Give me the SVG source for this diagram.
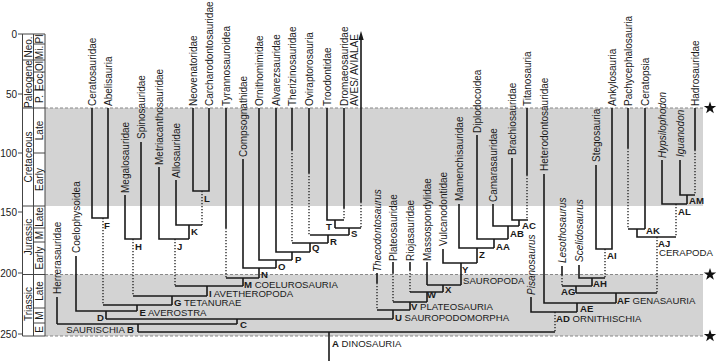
<svg xmlns="http://www.w3.org/2000/svg" width="720" height="361" viewBox="0 0 720 361">
<style>
text{font-family:"Liberation Sans",Arial,sans-serif;font-size:10px;fill:#1a1a1a}
.it{font-style:italic}
.b{font-weight:bold}
#nodes text{font-size:9.6px}
.s{fill:none;stroke:#1a1a1a;stroke-width:1.6}
.d{fill:none;stroke:#1a1a1a;stroke-width:1.3;stroke-dasharray:1.3 1.7}
.t{fill:none;stroke:#444;stroke-width:1}
.bd{fill:none;stroke:#888;stroke-width:1.2;stroke-dasharray:3 2}
</style>
<defs>
<path id="star" d="M0,-6.5L1.53,-2.1L6.18,-2.01L2.47,0.8L3.82,5.26L0,2.6L-3.82,5.26L-2.47,0.8L-6.18,-2.01L-1.53,-2.1Z" fill="#111"/>
</defs>
<rect width="720" height="361" fill="#fff"/>
<g id="bands">
<rect x="45" y="108" width="658" height="98" fill="#d3d3d3"/>
<rect x="45" y="274.5" width="658" height="61.5" fill="#d3d3d3"/>
<path class="bd" d="M45 108H705M45 274.5H705M45 336H705"/>
<use href="#star" x="710" y="108"/>
<use href="#star" x="710" y="274.5"/>
<use href="#star" x="710" y="336"/>
</g>
<g id="timescale">
<path class="t" d="M22.5 34V336M33.5 34V336M45 34V336M18 34H45M18 94H22.5M18 153H22.5M18 212H22.5M18 273H22.5M18 334H22.5M22.5 60H45M22.5 108H45M22.5 206H45M22.5 274.5H45M22.5 336H45M33.5 44H45M33.5 72H45M33.5 90H45M33.5 153H45M33.5 228H45M33.5 242H45M33.5 308H45M33.5 323H45"/>
<g text-anchor="end">
<text x="17" y="38">0</text><text x="17" y="98">50</text><text x="17" y="157">100</text><text x="17" y="216">150</text><text x="17" y="277">200</text><text x="17" y="338">250</text>
</g>
<g text-anchor="middle">
<text transform="translate(31.5,47) rotate(-90)">Neo.</text>
<text transform="translate(31.5,84) rotate(-90)">Paleogene</text>
<text transform="translate(31.5,157) rotate(-90)">Cretaceous</text>
<text transform="translate(31.5,237) rotate(-90)">Jurassic</text>
<text transform="translate(31.5,304) rotate(-90)">Triassic</text>
<text transform="translate(43,39) rotate(-90)">Pl</text>
<text transform="translate(43,52.5) rotate(-90)">Mi.</text>
<text transform="translate(43,66) rotate(-90)">Ol</text>
<text transform="translate(43,81) rotate(-90)">Eoc.</text>
<text transform="translate(43,99) rotate(-90)">P.</text>
<text transform="translate(43,130.5) rotate(-90)">Late</text>
<text transform="translate(43,179.5) rotate(-90)">Early</text>
<text transform="translate(43,217) rotate(-90)">Late</text>
<text transform="translate(43,235) rotate(-90)">M</text>
<text transform="translate(43,258) rotate(-90)">Early</text>
<text transform="translate(43,291) rotate(-90)">Late</text>
<text transform="translate(43,315.5) rotate(-90)">M</text>
<text transform="translate(43,329.5) rotate(-90)">E</text>
</g>
</g>
<g id="connectors">
<path class="s" d="M57 297V324M57 324H237M138 324V332M138 332H555M329 332V361M106 319H393M237 319V324M76 256V311H137M106 311V319M103 305H172M137 305V311M92 108V218H108V108M133 296H207M172 296V305M125 195V239H141V142M175 286H243M207 286V296M159 167V239H189M176 180V225H202M189 225V239M193 108V191H209V108M226 108V228M226 278H259M243 278V286M243 159V268H276M259 268V278M259 108V260H292M276 260V268M276 108V252H310M292 252V260M292 243H328M310 243V252M310 235H349M328 235V243M335 228H361M349 228V235M327 108V220H344M335 220V228M292 108V150M309 108V173M344 108V208M361 38V202"/>
<path class="d" d="M103 218V305M133 239V296M175 239V286M202 191V225M226 228V278M292 150V243M309 173V235M344 208V220M361 202V228"/>
<path d="M361 31L358.3 40H363.7Z" fill="#1a1a1a"/>
<path class="s" d="M377 273V283M377 310H410M393 310V319M393 262V273M393 302H427M410 302V310M410 262V270M410 292H443M427 292V302M427 262V285M427 285H461M443 285V292M443 249V263H477M461 263V285M459 204V248H494M477 248V263M477 135V239H508M494 239V248M493 204V226H519M508 226V239M512 158V220H528M519 220V226M527 108V175"/>
<path class="d" d="M377 283V310M393 273V302M410 270V292M527 175V220"/>
<path class="s" d="M531 297V312H577M577 303V312M544 174V303H616M616 293V303M576 293H657M576 286V293M562 286H592M592 278V286M562 266V275M579 265V278H605M596 165V249H612V108M645 108V229M628 229H645M628 108V148M637 229V237H676M662 160V204H687M687 195V204M680 160V195H695M695 108V150"/>
<path class="d" d="M555 312V332M562 275V286M605 249V278M657 237V293M628 148V229M676 204V237M695 150V195"/>
</g>
<g id="tips">
<text id="t-herrerasauridae" transform="translate(60.5,294) rotate(-90)">Herrerasauridae</text>
<text id="t-coelophysoidea" transform="translate(79.5,253) rotate(-90)">Coelophysoidea</text>
<text id="t-ceratosauridae" transform="translate(95.5,106) rotate(-90)">Ceratosauridae</text>
<text id="t-abelisauria" transform="translate(111.5,106) rotate(-90)">Abelisauria</text>
<text id="t-megalosauridae" transform="translate(128.5,193) rotate(-90)">Megalosauridae</text>
<text id="t-spinosauridae" transform="translate(144.5,139) rotate(-90)">Spinosauridae</text>
<text id="t-metriacanthosauridae" transform="translate(162.5,165) rotate(-90)">Metriacanthosauridae</text>
<text id="t-allosauridae" transform="translate(179.5,178) rotate(-90)">Allosauridae</text>
<text id="t-neovenatoridae" transform="translate(196.5,106) rotate(-90)">Neovenatoridae</text>
<text id="t-carcharodontosauridae" transform="translate(212.5,106) rotate(-90)">Carcharodontosauridae</text>
<text id="t-tyrannosauroidea" transform="translate(229.5,106) rotate(-90)">Tyrannosauroidea</text>
<text id="t-compsognathidae" transform="translate(246.5,157) rotate(-90)">Compsognathidae</text>
<text id="t-ornithomimidae" transform="translate(262.5,106) rotate(-90)">Ornithomimidae</text>
<text id="t-alvarezsauridae" transform="translate(279.5,106) rotate(-90)">Alvarezsauridae</text>
<text id="t-therizinosauridae" transform="translate(295.5,106) rotate(-90)">Therizinosauridae</text>
<text id="t-oviraptorosauria" transform="translate(312.5,106) rotate(-90)">Oviraptorosauria</text>
<text id="t-troodontidae" transform="translate(330.5,106) rotate(-90)">Troodontidae</text>
<text id="t-dromaeosauridae" transform="translate(347.5,106) rotate(-90)">Dromaeosauridae</text>
<text id="t-aves" transform="translate(358,106) rotate(-90)">AVES/ AVIALAE</text>
<text id="t-thecodontosaurus" class="it" transform="translate(380.5,272) rotate(-90)">Thecodontosaurus</text>
<text id="t-plateosauridae" transform="translate(396.5,261) rotate(-90)">Plateosauridae</text>
<text id="t-riojasauridae" transform="translate(413.5,261) rotate(-90)">Riojasauridae</text>
<text id="t-massospondylidae" transform="translate(430.5,261) rotate(-90)">Massospondylidae</text>
<text id="t-vulcanodontidae" transform="translate(446.5,246) rotate(-90)">Vulcanodontidae</text>
<text id="t-mamenchisauridae" transform="translate(462.5,201) rotate(-90)">Mamenchisauridae</text>
<text id="t-diplodocoidea" transform="translate(480.5,133) rotate(-90)">Diplodocoidea</text>
<text id="t-camarasauridae" transform="translate(496.5,202) rotate(-90)">Camarasauridae</text>
<text id="t-brachiosauridae" transform="translate(515.5,155) rotate(-90)">Brachiosauridae</text>
<text id="t-titanosauria" transform="translate(530.5,106) rotate(-90)">Titanosauria</text>
<text id="t-pisanosaurus" class="it" transform="translate(534.5,295) rotate(-90)">Pisanosaurus</text>
<text id="t-heterodontosauridae" transform="translate(547.5,171) rotate(-90)">Heterodontosauridae</text>
<text id="t-lesothosaurus" class="it" transform="translate(565.5,263) rotate(-90)">Lesothosaurus</text>
<text id="t-scelidosaurus" class="it" transform="translate(582.5,262) rotate(-90)">Scelidosaurus</text>
<text id="t-stegosauria" transform="translate(599.5,162) rotate(-90)">Stegosauria</text>
<text id="t-ankylosauria" transform="translate(615.5,106) rotate(-90)">Ankylosauria</text>
<text id="t-pachycephalosauria" transform="translate(631.5,106) rotate(-90)">Pachycephalosauria</text>
<text id="t-ceratopsia" transform="translate(648.5,106) rotate(-90)">Ceratopsia</text>
<text id="t-hypsilophodon" class="it" transform="translate(665.5,158) rotate(-90)">Hypsilophodon</text>
<text id="t-iguanodon" class="it" transform="translate(683.5,157) rotate(-90)">Iguanodon</text>
<text id="t-hadrosauridae" transform="translate(698.5,106) rotate(-90)">Hadrosauridae</text>
</g>
<g id="nodes">
<g id="n-A"><text x="332" y="347"><tspan class="b">A</tspan> DINOSAURIA</text></g>
<g id="n-B"><text x="134" y="333" text-anchor="end">SAURISCHIA <tspan class="b">B</tspan></text></g>
<g id="n-C"><text class="b" x="240" y="327.5">C</text></g>
<g id="n-D"><text class="b" x="97" y="321">D</text></g>
<g id="n-E"><text x="139.5" y="315.5"><tspan class="b">E</tspan> AVEROSTRA</text></g>
<g id="n-F"><text class="b" x="104" y="228.5">F</text></g>
<g id="n-G"><text x="174" y="305.5"><tspan class="b">G</tspan> TETANURAE</text></g>
<g id="n-H"><text class="b" x="135" y="249.5">H</text></g>
<g id="n-I"><text x="209" y="296.5"><tspan class="b">I</tspan> AVETHEROPODA</text></g>
<g id="n-J"><text class="b" x="177" y="249.5">J</text></g>
<g id="n-K"><text class="b" x="191" y="235">K</text></g>
<g id="n-L"><text class="b" x="204" y="202">L</text></g>
<g id="n-M"><text x="244" y="287.5"><tspan class="b">M</tspan> COELUROSAURIA</text></g>
<g id="n-N"><text class="b" x="261" y="278">N</text></g>
<g id="n-O"><text class="b" x="278" y="269.5">O</text></g>
<g id="n-P"><text class="b" x="295" y="263">P</text></g>
<g id="n-Q"><text class="b" x="312" y="251">Q</text></g>
<g id="n-R"><text class="b" x="330" y="244.5">R</text></g>
<g id="n-S"><text class="b" x="351" y="237">S</text></g>
<g id="n-T"><text class="b" x="326" y="230">T</text></g>
<g id="n-U"><text x="395" y="321"><tspan class="b">U</tspan> SAUROPODOMORPHA</text></g>
<g id="n-V"><text x="411" y="310"><tspan class="b">V</tspan> PLATEOSAURIA</text></g>
<g id="n-W"><text class="b" x="427" y="298">W</text></g>
<g id="n-X"><text class="b" x="445" y="293">X</text></g>
<g id="n-Y"><text class="b" x="462" y="273">Y</text><text x="463" y="283.5">SAUROPODA</text></g>
<g id="n-Z"><text class="b" x="479" y="257.5">Z</text></g>
<g id="n-AA"><text class="b" x="496" y="250">AA</text></g>
<g id="n-AB"><text class="b" x="510" y="237">AB</text></g>
<g id="n-AC"><text class="b" x="522" y="228.5">AC</text></g>
<g id="n-AD"><text x="556" y="322"><tspan class="b">AD</tspan> ORNITHISCHIA</text></g>
<g id="n-AE"><text class="b" x="580" y="311.5">AE</text></g>
<g id="n-AF"><text x="617" y="303.5"><tspan class="b">AF</tspan> GENASAURIA</text></g>
<g id="n-AG"><text class="b" x="561" y="295">AG</text></g>
<g id="n-AH"><text class="b" x="593" y="287">AH</text></g>
<g id="n-AI"><text class="b" x="607" y="259">AI</text></g>
<g id="n-AJ"><text class="b" x="658" y="247">AJ</text><text x="659" y="256">CERAPODA</text></g>
<g id="n-AK"><text class="b" x="646" y="234">AK</text></g>
<g id="n-AL"><text class="b" x="678" y="215">AL</text></g>
<g id="n-AM"><text class="b" x="689" y="204">AM</text></g>
</g>
</svg>
